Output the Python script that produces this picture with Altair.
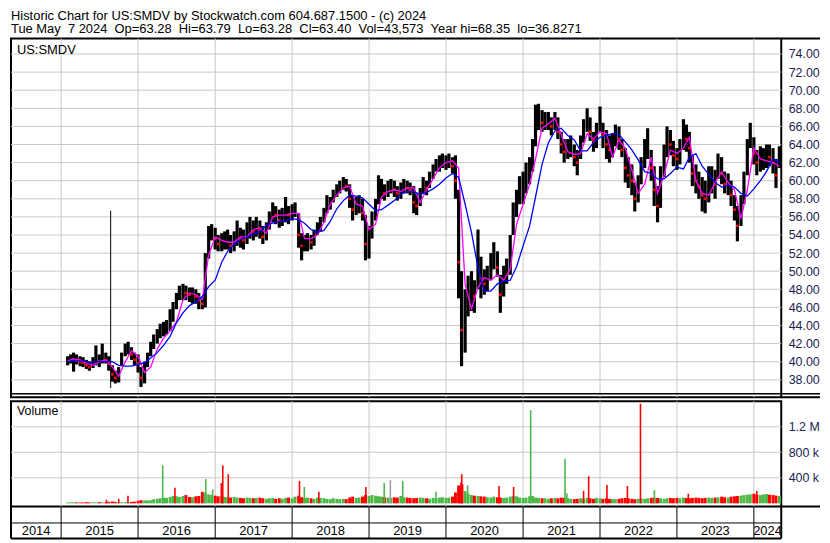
import altair as alt
import pandas as pd

FONT = "Liberation Sans"
GRID = "#c8c8c8"
LABEL = "#1e1e50"
GREEN = "#4cb848"

header = "Historic Chart for US:SMDV by Stockwatch.com 604.687.1500 - (c) 2024"
subheader = ("Tue May \u00a07 2024 \u00a0Op=63.28 \u00a0Hi=63.79 \u00a0Lo=63.28 \u00a0Cl=63.40"
             " \u00a0Vol=43,573 \u00a0Year hi=68.35 \u00a0lo=36.8271")

# semi-monthly price bars (1st and 15th of each month), Feb 2015 - May 2024
price_hi = [
    40.6, 40.8, 41.0, 40.8, 40.6, 40.5, 40.2, 40.0, 40.5, 41.8, 40.8, 42.0, 41.0, 40.6, 39.6, 39.0, 39.4, 41.0, 42.0, 42.2, 41.6, 41.0,
    40.8, 39.4, 40.0, 41.0, 42.2, 43.0, 43.6, 44.2, 44.4, 44.6, 45.8, 46.6, 47.6, 48.4, 48.6, 48.4, 48.2, 48.2, 48.0, 47.6, 47.2, 52.0, 55.0, 55.2,
    54.8, 54.0, 54.2, 54.4, 54.6, 54.0, 54.4, 55.6, 54.8, 54.6, 55.4, 56.0, 55.6, 56.0, 55.6, 55.0, 55.4, 56.6, 57.6, 57.2, 56.8, 57.0, 58.2, 57.2,
    57.4, 57.6, 56.4, 54.2, 54.0, 54.2, 54.0, 54.6, 55.4, 56.0, 57.0, 58.4, 58.2, 59.0, 59.6, 60.0, 60.4, 60.2, 59.6, 58.4, 58.2, 58.4, 58.0, 56.2,
    55.0, 56.6, 58.0, 60.6, 60.2, 59.6, 60.0, 60.2, 60.0, 59.4, 59.8, 60.2, 60.0, 59.8, 59.4, 58.6, 59.2, 60.4, 60.0, 61.0, 61.8, 62.4, 62.8, 63.0,
    62.8, 63.0, 62.6, 62.8, 59.0, 50.0, 48.0, 49.5, 50.0, 49.0, 54.6, 51.6, 50.2, 50.6, 52.0, 53.2, 52.2, 49.6, 50.6, 51.4, 54.0, 57.6, 59.0, 60.5,
    61.0, 62.0, 62.6, 64.6, 68.4, 68.5, 67.8, 67.6, 67.6, 67.0, 67.6, 67.0, 65.4, 64.6, 64.6, 65.0, 64.0, 63.4, 65.0, 66.8, 68.0, 67.0, 65.4, 66.4,
    68.2, 66.4, 65.6, 65.0, 65.2, 66.2, 66.0, 64.6, 63.6, 62.6, 61.8, 59.8, 60.6, 62.6, 64.6, 65.8, 63.4, 61.6, 59.4, 61.6, 64.0, 66.0, 65.6, 64.4,
    63.6, 64.6, 66.8, 66.2, 65.4, 62.8, 61.8, 61.0, 60.4, 60.0, 61.6, 61.6, 61.2, 63.0, 62.6, 61.0, 60.8, 60.0, 58.4, 57.2, 58.4, 61.0, 64.6, 66.4,
    64.8, 63.4, 63.8, 63.6, 64.0, 64.0, 63.6, 62.4, 63.8,
]
price_lo = [
    39.6, 39.8, 38.9, 39.7, 39.5, 39.4, 39.2, 39.0, 39.3, 39.6, 39.4, 39.8, 39.8, 39.0, 37.8, 37.6, 37.7, 39.6, 40.6, 40.8, 40.2, 39.6,
    38.8, 37.2, 37.6, 39.4, 40.6, 41.4, 42.0, 42.6, 42.8, 43.0, 43.4, 44.4, 45.8, 46.8, 46.8, 46.8, 46.6, 46.4, 46.4, 45.8, 45.8, 46.0, 51.4, 53.4,
    52.4, 52.2, 52.2, 52.4, 52.4, 52.0, 52.2, 52.8, 52.6, 52.4, 53.0, 53.6, 53.4, 53.8, 53.6, 53.0, 53.4, 54.6, 55.4, 55.2, 54.8, 55.0, 55.4, 55.2,
    55.6, 56.0, 52.6, 51.2, 52.2, 52.2, 52.4, 52.8, 54.0, 54.4, 55.4, 56.4, 56.8, 57.6, 58.2, 58.6, 59.0, 58.8, 57.0, 55.6, 56.2, 56.4, 55.6, 51.2,
    51.4, 53.6, 55.6, 57.4, 58.0, 57.8, 58.2, 58.6, 58.2, 57.8, 58.0, 58.6, 58.6, 58.4, 56.4, 56.2, 57.2, 58.6, 58.4, 59.2, 60.2, 61.0, 61.0, 61.4,
    61.2, 61.4, 60.8, 58.0, 47.0, 39.5, 41.0, 45.0, 45.6, 45.4, 48.0, 47.0, 47.4, 47.8, 49.0, 50.2, 49.4, 45.4, 47.2, 48.6, 49.6, 54.0, 56.0, 57.4,
    57.4, 58.6, 59.6, 61.0, 63.8, 65.6, 65.4, 65.6, 65.6, 65.0, 65.6, 64.6, 63.0, 62.0, 62.4, 62.6, 61.6, 60.6, 62.4, 64.2, 65.4, 64.4, 63.2, 63.6,
    65.4, 63.6, 62.4, 62.0, 62.6, 63.8, 63.4, 62.6, 59.8, 59.2, 58.4, 56.6, 57.6, 59.6, 61.4, 62.4, 60.0, 57.2, 55.4, 57.0, 60.4, 62.6, 62.8, 61.6,
    61.2, 61.8, 63.4, 63.2, 62.0, 59.4, 58.6, 58.0, 56.6, 56.4, 57.6, 58.6, 58.0, 60.2, 59.6, 58.6, 58.4, 57.2, 55.6, 53.3, 55.0, 57.4, 60.6, 63.6,
    61.8, 60.6, 61.0, 61.2, 61.4, 61.6, 60.8, 59.2, 61.4,
]
price_cl = [
    40.2, 40.3, 40.5, 40.1, 40.0, 39.9, 39.6, 39.4, 39.9, 40.2, 40.0, 40.3, 40.2, 39.8, 38.6, 38.2, 38.6, 40.5, 41.3, 41.5, 40.8, 40.2,
    39.8, 38.2, 39.2, 40.4, 41.6, 42.2, 42.8, 43.4, 43.6, 43.8, 45.0, 45.8, 46.8, 47.6, 47.8, 47.6, 47.4, 47.4, 47.2, 46.8, 46.4, 50.4, 54.0, 54.4,
    53.6, 53.0, 53.2, 53.4, 53.4, 52.8, 53.2, 53.8, 53.6, 53.4, 54.2, 54.6, 54.4, 54.8, 54.6, 53.8, 54.4, 55.6, 56.4, 56.2, 55.6, 56.0, 56.4, 56.2,
    56.6, 56.8, 54.0, 52.8, 53.0, 53.4, 53.2, 53.8, 54.8, 55.2, 56.4, 57.6, 57.6, 58.4, 59.0, 59.4, 59.8, 59.4, 58.0, 56.8, 57.2, 57.6, 56.4, 53.0,
    53.6, 55.6, 57.0, 58.8, 59.2, 58.6, 59.0, 59.4, 59.0, 58.6, 59.0, 59.4, 59.2, 59.0, 57.6, 57.2, 58.2, 59.6, 59.2, 60.2, 61.2, 61.8, 62.0, 62.2,
    62.2, 62.4, 61.6, 60.0, 51.0, 43.5, 45.0, 47.5, 47.6, 47.2, 51.0, 49.2, 48.6, 49.4, 50.6, 51.6, 50.4, 47.4, 49.2, 50.4, 52.6, 56.4, 57.6, 59.0,
    59.6, 60.4, 61.2, 63.0, 66.6, 67.2, 66.4, 66.6, 66.8, 66.0, 66.6, 65.4, 64.0, 63.2, 63.4, 63.8, 62.6, 62.0, 64.0, 65.6, 66.8, 65.4, 64.4, 65.2,
    67.0, 65.0, 64.0, 63.4, 64.0, 65.2, 64.6, 63.4, 61.4, 60.6, 60.0, 58.0, 59.4, 61.4, 63.2, 64.2, 61.4, 59.0, 57.2, 59.8, 62.4, 64.4, 64.0, 62.8,
    62.4, 63.4, 65.4, 64.6, 63.6, 60.8, 60.0, 59.4, 58.4, 58.0, 59.8, 60.0, 59.6, 61.8, 60.8, 59.6, 59.6, 58.4, 56.8, 55.0, 56.8, 59.4, 63.0, 65.2,
    63.0, 62.0, 62.4, 62.4, 62.8, 62.6, 62.0, 60.6, 63.2,
]
# typical daily volume in each half-month, thousands of shares
volume_k = [
    14, 16, 16, 14, 12, 14, 18, 14, 16, 14, 18, 16, 14, 24, 30, 22, 18, 16, 18, 16, 22, 26,
    40, 50, 45, 45, 50, 65, 70, 80, 90, 85, 100, 115, 110, 100, 115, 130, 100, 95, 110, 115, 180, 165, 140, 130,
    120, 110, 115, 100, 95, 90, 100, 90, 85, 80, 90, 85, 80, 85, 90, 80, 70, 80, 85, 70, 80, 70, 85, 90,
    80, 105, 120, 95, 85, 90, 80, 70, 90, 85, 80, 70, 65, 80, 70, 65, 70, 65, 90, 105, 85, 90, 105, 130,
    115, 130, 120, 110, 105, 95, 90, 85, 95, 90, 115, 95, 90, 85, 80, 85, 90, 85, 80, 70, 85, 80, 90, 95,
    85, 90, 105, 170, 280, 250, 190, 150, 130, 120, 115, 110, 105, 95, 90, 105, 95, 90, 85, 90, 105, 115, 110, 90,
    85, 90, 110, 115, 90, 85, 80, 80, 70, 80, 85, 80, 90, 85, 80, 70, 65, 70, 80, 70, 85, 80, 70, 85,
    80, 70, 80, 70, 65, 65, 70, 80, 85, 80, 70, 65, 70, 80, 70, 80, 85, 90, 85, 80, 70, 80, 85, 80,
    85, 80, 90, 85, 80, 85, 90, 85, 80, 85, 90, 85, 90, 95, 105, 95, 90, 105, 110, 115, 120, 130, 135, 140,
    150, 135, 130, 140, 145, 135, 130, 120, 115,
]

# monthly moving averages (1st of each month), Feb 2015 - May 2024
ma_fast = [
    40.1, 40.3, 40.2, 39.8, 39.6, 40.0, 40.2, 39.4, 38.4, 40.0, 41.2,
    40.6, 38.8, 39.4, 41.4, 42.6, 43.4, 44.4, 46.8, 47.6, 47.4, 46.9, 51.8,
    53.8, 53.4, 53.2, 53.2, 53.8, 53.8, 54.6, 54.8, 54.2, 56.0, 56.2, 56.2,
    56.4, 56.4, 53.6, 53.6, 54.0, 55.4, 57.4, 58.4, 59.2, 59.4, 57.4, 57.2,
    54.6, 55.2, 58.2, 58.8, 59.0, 58.8, 59.2, 59.2, 57.6, 59.0, 60.2, 61.4,
    62.0, 62.2, 61.4, 48.5, 45.8, 48.2, 49.3, 49.0, 49.6, 49.0, 50.2, 55.2,
    57.4, 59.6, 62.4, 65.8, 66.3, 66.9, 65.1, 63.2, 62.9, 63.0, 65.2, 64.6,
    65.4, 65.2, 62.6, 64.5, 63.6, 61.2, 58.6, 59.6, 62.6, 58.6, 60.6, 63.4,
    63.0, 63.6, 64.8, 60.0, 58.6, 58.4, 59.8, 61.0, 59.8, 59.0, 55.8, 59.0,
    63.6, 62.4, 62.2, 62.0, 61.6,
]
ma_slow = [
    40.0, 40.1, 40.1, 40.0, 39.9, 40.0, 40.0, 40.0, 39.6, 39.5, 39.5,
    39.7, 39.9, 40.4, 41.0, 41.8, 42.8, 44.3, 45.4, 46.2, 46.6, 47.2, 48.3,
    49.0, 51.0, 52.2, 53.0, 53.5, 53.8, 54.1, 54.4, 55.1, 55.3, 55.5, 55.6,
    55.8, 55.7, 55.3, 54.6, 54.3, 54.5, 55.5, 56.9, 57.8, 58.4, 58.3, 58.1,
    57.4, 56.7, 56.8, 57.3, 57.8, 58.5, 58.8, 58.8, 58.5, 58.7, 59.1, 59.6,
    60.3, 60.8, 60.4, 57.4, 54.3, 50.4, 47.8, 47.8, 48.6, 48.9, 49.0, 50.5,
    52.8, 55.0, 58.2, 61.8, 64.2, 65.5, 65.8, 65.0, 64.5, 63.3, 63.3, 64.2,
    64.8, 65.0, 65.2, 65.1, 64.3, 63.4, 62.3, 61.0, 60.8, 60.2, 60.2, 60.8,
    61.5, 61.3, 62.6, 63.0, 61.6, 60.7, 59.8, 59.3, 59.5, 59.3, 58.6, 58.3,
    59.1, 60.0, 61.0, 62.4, 62.0,
]

# single-day outliers
spike_day = ["2015-08-24"]
spike_hi = [56.7]
spike_lo = [37.1]

vspike_day = ["2015-08-04", "2015-10-01", "2015-11-14", "2016-04-27", "2016-06-24", "2016-11-17",
              "2016-12-20", "2017-01-30", "2017-02-06", "2017-03-04", "2018-02-05", "2018-02-28",
              "2018-05-08", "2018-12-17", "2019-03-14", "2019-04-12", "2019-06-10", "2019-11-15",
              "2020-03-06", "2020-03-12", "2020-03-16", "2020-03-20", "2020-04-13", "2020-09-09",
              "2020-11-17", "2021-02-06", "2021-07-19", "2021-07-28", "2021-10-15", "2021-11-08",
              "2022-02-03", "2022-05-11", "2022-07-12", "2022-09-16", "2023-02-24", "2024-01-15"]
vspike_k = [56, 72, 118, 595, 246, 380,
            215, 318, 595, 456, 350, 256,
            180, 256, 318, 364, 350, 180,
            270, 330, 456, 300, 282, 272,
            256, 1460, 700, 154, 195, 425,
            287, 272, 1560, 210, 150, 195]
vspike_col = ["red", "red", "red", "green", "red", "green",
              "green", "red", "red", "red", "red", "green",
              "red", "red", "green", "gray", "green", "green",
              "red", "red", "red", "red", "green", "red",
              "red", "green", "green", "green", "red", "red",
              "red", "red", "red", "green", "red", "red"]

price_ticks = [38, 40, 42, 44, 46, 48, 50, 52, 54, 56, 58, 60, 62, 64, 66, 68, 70, 72, 74]
volume_ticks = [400000, 800000, 1200000]
years = [2014, 2015, 2016, 2017, 2018, 2019, 2020, 2021, 2022, 2023, 2024]

# ---------------------------------------------------------------- tables
bar_dates = pd.date_range("2015-02-01", "2024-05-01", freq="SMS")
ma_dates = pd.date_range("2015-02-01", "2024-05-01", freq="MS")
assert len(bar_dates) == len(price_hi) == len(price_lo) == len(price_cl) == len(volume_k)
assert len(ma_dates) == len(ma_fast) == len(ma_slow)

price_df = pd.DataFrame({"date": bar_dates, "hi": price_hi, "lo": price_lo, "cl": price_cl})
price_df["down"] = price_df["cl"] < price_df["cl"].shift(1)
vol_df = pd.DataFrame({"date": bar_dates, "vol": [v * 1000 for v in volume_k]})
vol_df["col"] = [("red" if d else GREEN) for d in price_df["down"]]
ma_df = pd.DataFrame({"date": ma_dates, "fast": ma_fast, "slow": ma_slow})
spike_df = pd.DataFrame({"date": pd.to_datetime(spike_day), "hi": spike_hi, "lo": spike_lo})
colmap = {"red": "red", "green": GREEN, "gray": "#a0a0a0"}
vspike_df = pd.DataFrame({"date": pd.to_datetime(vspike_day),
                          "vol": [v * 1000 for v in vspike_k],
                          "col": [colmap[c] for c in vspike_col]})

d_start = pd.Timestamp("2014-05-08")
d_end = pd.Timestamp("2024-05-10")
bounds = [pd.Timestamp(f"{y}-01-01") for y in years[1:]]
mids = []
for y in years:
    s = max(pd.Timestamp(f"{y}-01-01"), d_start)
    e = min(pd.Timestamp(f"{y + 1}-01-01"), d_end)
    mids.append(s + (e - s) / 2)
year_df = pd.DataFrame({"mid": mids, "label": [str(y) for y in years]})
bound_df = pd.DataFrame({"date": bounds})
ptick_df = pd.DataFrame({"v": price_ticks})
vtick_df = pd.DataFrame({"v": volume_ticks})

# ---------------------------------------------------------------- layout
W, HP, HV, HD, EXT = 775, 361, 106, 32, 39

xs = alt.Scale(domain=[alt.DateTime(year=2014, month=5, date=8),
                       alt.DateTime(year=2024, month=5, date=10)])
ys = alt.Scale(domain=[36.07, 75.72], nice=False, zero=False)
vs = alt.Scale(domain=[-51000, 1600000], nice=False, zero=False)
y_price_axis = alt.Axis(
    orient="right", values=price_ticks, format=".2f", grid=False,
    ticks=False, domain=False, title=None, labelFont=FONT, labelFontSize=12.5,
    labelColor=LABEL, labelPadding=7, labelOverlap=False)
y_vol_axis = alt.Axis(
    orient="right", values=volume_ticks, grid=False, ticks=False,
    domain=False, title=None, labelFont=FONT, labelFontSize=12.5, labelColor=LABEL,
    labelPadding=7, labelOverlap=False,
    labelExpr="datum.value >= 1000000 ? format(datum.value / 1000000, '.1f') + ' M' : format(datum.value / 1000, 'd') + ' k'")


def xenc(field="date"):
    return alt.X(f"{field}:T", scale=xs, axis=None)


def yp(field):
    return alt.Y(f"{field}:Q", scale=ys, axis=y_price_axis)


def yv(field):
    return alt.Y(f"{field}:Q", scale=vs, axis=y_vol_axis)


def one():
    return alt.Chart(pd.DataFrame({"k": [0]}))


def hline(y, x0, x1, w=2):
    return one().mark_rule(color="black", strokeWidth=w).encode(
        x=alt.value(x0), x2=alt.value(x1), y=alt.value(y))


def vline(x, y0, y1, w=2):
    return one().mark_rule(color="black", strokeWidth=w).encode(
        x=alt.value(x), y=alt.value(y0), y2=alt.value(y1))


def label(text, x, y, size):
    return alt.Chart(pd.DataFrame({"t": [text]})).mark_text(
        align="left", baseline="middle", font=FONT, fontSize=size, color="black").encode(
        x=alt.value(x), y=alt.value(y), text="t:N")


vgrid = alt.Chart(bound_df).mark_rule(color=GRID, strokeWidth=1).encode(x=xenc())
pgrid = alt.Chart(ptick_df).mark_rule(color=GRID, strokeWidth=1).encode(y=yp("v"))
bars = alt.Chart(price_df).mark_rule(color="black", strokeWidth=3.2).encode(
    x=xenc(), y=yp("lo"), y2="hi:Q")
reds = alt.Chart(price_df).transform_filter("datum.down").mark_square(
    size=7, color="red", opacity=1).encode(x=xenc(), y=yp("cl"))
spike = alt.Chart(spike_df).mark_rule(color="black", strokeWidth=1).encode(
    x=xenc(), y=yp("lo"), y2="hi:Q")
fast = alt.Chart(ma_df).mark_line(color="#ff00ff", strokeWidth=1.3).encode(
    x=xenc(), y=yp("fast"))
slow = alt.Chart(ma_df).mark_line(color="#0000ff", strokeWidth=1.3).encode(
    x=xenc(), y=yp("slow"))

price = alt.layer(pgrid, vgrid, bars, reds, spike, fast, slow, label("US:SMDV", 6, 12, 13),
                  hline(0, W, W + EXT), hline(HP - 3.5, 0, W + EXT, 1.6),
                  hline(HP, W, W + EXT)).properties(width=W, height=HP)

vgrid2 = alt.Chart(vtick_df).mark_rule(color=GRID, strokeWidth=1).encode(y=yv("v"))
vbars = alt.Chart(vol_df).mark_rule(strokeWidth=3.0).encode(
    x=xenc(), y=yv("vol"), y2=alt.datum(0), color=alt.Color("col:N", scale=None))
vspikes = alt.Chart(vspike_df).mark_rule(strokeWidth=1.6).encode(
    x=xenc(), y=yv("vol"), y2=alt.datum(0), color=alt.Color("col:N", scale=None))

# date band drawn just below the volume panel
yrules = alt.Chart(bound_df).mark_rule(color="black", strokeWidth=1).encode(
    x=xenc(), y=alt.value(HV), y2=alt.value(HV + HD))
ylabels = alt.Chart(year_df).mark_text(font=FONT, fontSize=13, baseline="middle",
                                       color="black").encode(
    x=xenc("mid"), y=alt.value(HV + 24.5), text="label:N")

volume = alt.layer(
    vgrid2, vgrid, vbars, vspikes, label("Volume", 6, 10, 12.5),
    hline(HV, W, W + EXT),
    yrules, ylabels,
    hline(HV + 16.5, 0, W, 1), hline(HV + HD, 0, W, 2),
    vline(0, HV, HV + HD), vline(W, HV, HV + HD),
).properties(width=W, height=HV)

chart = alt.vconcat(price, volume, spacing=0).properties(
    title=alt.TitleParams(text=header, subtitle=subheader, anchor="start", font=FONT,
                          subtitleFont=FONT, fontSize=13, subtitleFontSize=13,
                          fontWeight="normal", color="black", subtitleColor="black",
                          offset=0, subtitlePadding=1, dx=2),
    padding={"left": 1, "top": 0, "right": 0, "bottom": 1},
    background="white",
).configure_view(stroke="black", strokeWidth=2)

chart.save("out.html", embed_options={"renderer": "svg", "actions": False})
